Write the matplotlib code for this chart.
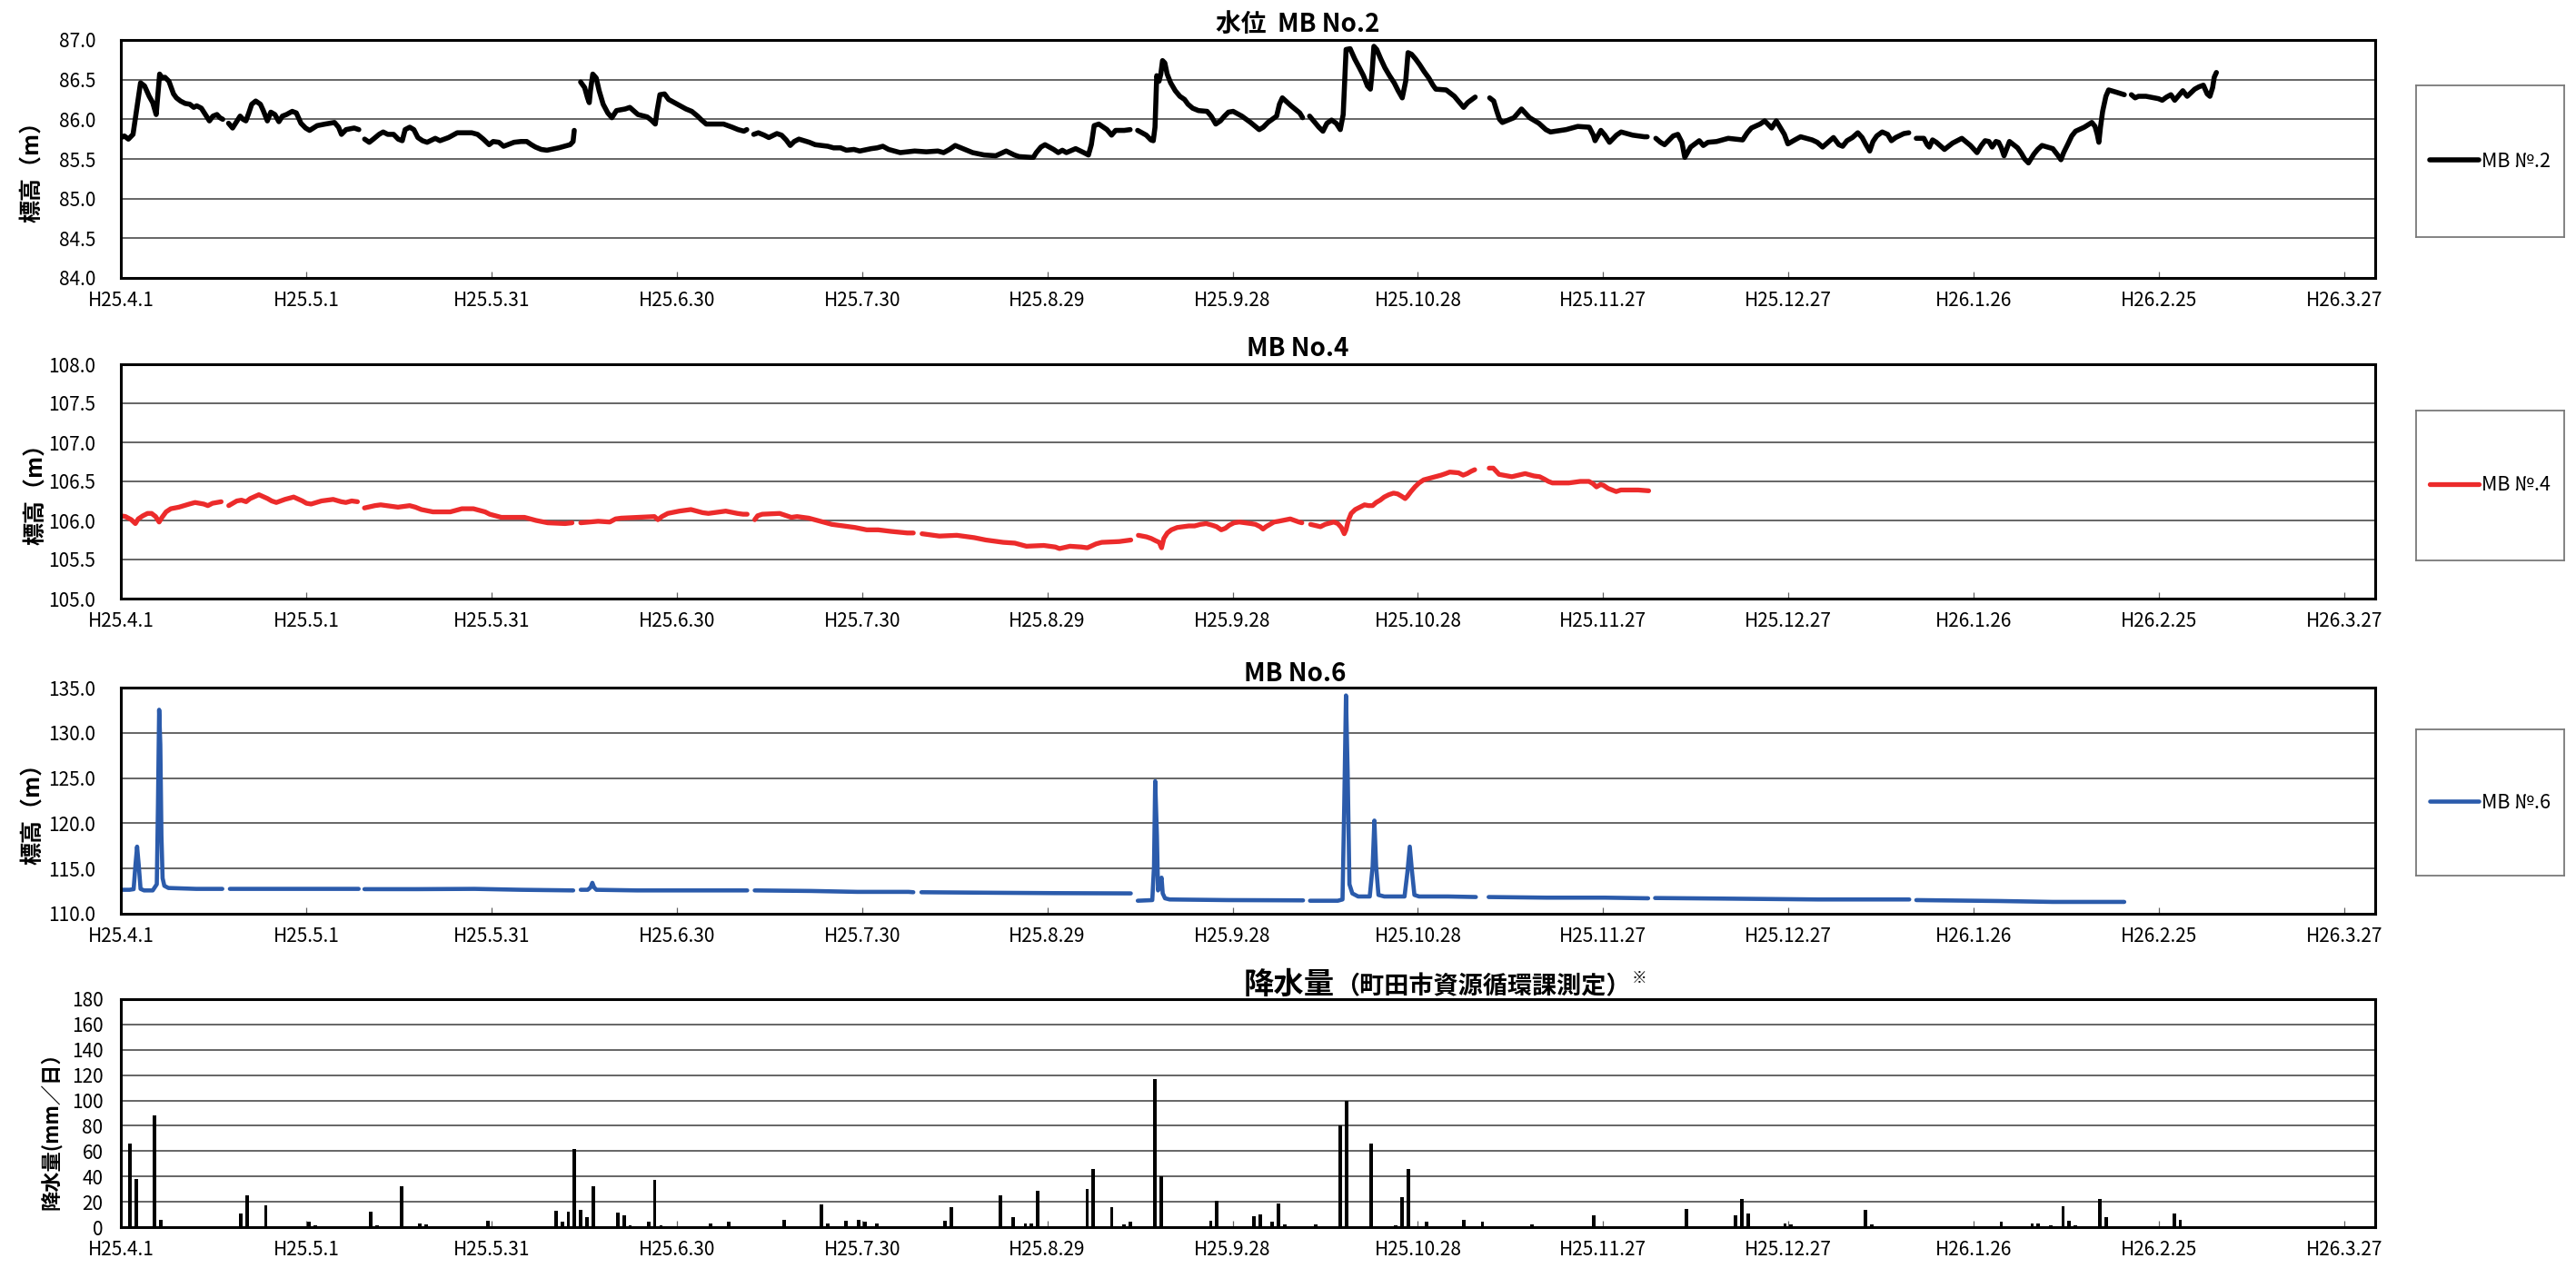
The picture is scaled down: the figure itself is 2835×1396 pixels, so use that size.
import numpy as np
import matplotlib
matplotlib.use("Agg")
import matplotlib.pyplot as plt
from matplotlib.ticker import FormatStrFormatter
from datetime import date, timedelta

plt.rcParams["font.family"] = ["Noto Sans CJK JP", "DejaVu Sans"]

nan = np.nan

# ---- observation period (days counted from H25.4.1 = 2013-04-01) ----
start_date = date(2013, 4, 1)
period_days = 365
tick_step_days = 30

# ---- groundwater level MB No.2 : (day, elevation m); nan = no record ----
mb2_obs = [
    (0.09, 85.77), (0.56, 85.79), (1.22, 85.75), (1.97, 85.81), (2.44, 86.06), (3.19, 86.46),
    (3.84, 86.42), (4.59, 86.29), (5.16, 86.21), (5.72, 86.06), (6.28, 86.57), (6.66, 86.52),
    (7.13, 86.53), (7.78, 86.48), (8.53, 86.32), (9.00, 86.27), (9.66, 86.23), (10.41, 86.20),
    (11.16, 86.19), (11.81, 86.15), (12.28, 86.17), (13.03, 86.14), (13.69, 86.06), (14.34, 85.98),
    (14.91, 86.04), (15.56, 86.06), (16.03, 86.02), (16.50, 86.00),
    (nan, nan),
    (17.44, 85.95), (18.09, 85.89), (18.66, 85.96), (19.31, 86.04), (19.78, 86.00), (20.25, 85.98),
    (20.72, 86.08), (21.19, 86.19), (21.84, 86.23), (22.59, 86.19), (23.06, 86.11), (23.72, 85.98),
    (24.28, 86.09), (24.94, 86.06), (25.59, 85.97), (26.16, 86.04), (26.81, 86.06), (27.75, 86.10),
    (28.41, 86.08), (29.16, 85.95), (29.91, 85.89), (30.56, 85.86), (31.78, 85.92), (33.09, 85.94),
    (33.84, 85.95), (34.59, 85.96), (35.25, 85.90), (35.72, 85.81), (36.47, 85.87), (37.78, 85.89),
    (38.53, 85.87),
    (nan, nan),
    (39.47, 85.75), (40.22, 85.71), (40.88, 85.75), (41.81, 85.81), (42.47, 85.84), (43.22, 85.81),
    (44.16, 85.81), (44.91, 85.75), (45.56, 85.73), (46.03, 85.87), (46.78, 85.90), (47.44, 85.87),
    (48.09, 85.77), (48.84, 85.73), (49.59, 85.71), (50.91, 85.76), (51.66, 85.73), (53.06, 85.77),
    (54.47, 85.83), (56.81, 85.83), (57.75, 85.81), (58.69, 85.75), (59.63, 85.68), (60.28, 85.72),
    (61.22, 85.71), (61.97, 85.66), (63.66, 85.71), (64.78, 85.72), (65.72, 85.72), (66.47, 85.68),
    (67.13, 85.65), (68.06, 85.62), (69.00, 85.61), (70.88, 85.64), (72.75, 85.68), (73.22, 85.72),
    (73.41, 85.86),
    (nan, nan),
    (74.44, 86.47), (75.09, 86.40), (75.56, 86.27), (75.84, 86.21), (76.03, 86.36), (76.41, 86.57),
    (76.97, 86.52), (77.44, 86.36), (78.09, 86.19), (78.84, 86.08), (79.50, 86.02), (80.25, 86.11),
    (81.66, 86.13), (82.41, 86.15), (83.72, 86.06), (85.22, 86.03), (85.88, 85.99), (86.53, 85.94),
    (86.81, 86.10), (87.28, 86.31), (88.03, 86.32), (88.69, 86.25), (89.63, 86.21), (90.56, 86.17),
    (91.50, 86.13), (92.44, 86.10), (93.38, 86.04), (94.03, 85.99), (94.78, 85.94), (96.66, 85.94),
    (97.59, 85.94), (99.00, 85.90), (99.94, 85.87), (100.88, 85.85), (101.34, 85.87),
    (nan, nan),
    (102.47, 85.81), (103.22, 85.83), (104.16, 85.80), (104.91, 85.77), (106.22, 85.82), (106.97, 85.80),
    (107.72, 85.74), (108.38, 85.67), (109.03, 85.72), (109.78, 85.75), (111.47, 85.71), (112.41, 85.68),
    (114.47, 85.66), (115.41, 85.64), (116.53, 85.64), (117.47, 85.61), (118.69, 85.62), (119.63, 85.60),
    (121.50, 85.63), (122.44, 85.64), (123.38, 85.66), (124.31, 85.62), (126.19, 85.58), (128.53, 85.60),
    (130.41, 85.59), (132.28, 85.60), (133.22, 85.58), (134.16, 85.62), (135.09, 85.67), (136.97, 85.61),
    (137.91, 85.58), (139.78, 85.55), (141.66, 85.54), (143.34, 85.60), (144.66, 85.55), (145.41, 85.53),
    (147.28, 85.52), (147.75, 85.52), (148.22, 85.58), (148.97, 85.65), (149.63, 85.68), (151.03, 85.62),
    (151.78, 85.58), (152.44, 85.61), (153.09, 85.58), (154.59, 85.63), (155.91, 85.58), (156.66, 85.55),
    (157.13, 85.68), (157.59, 85.92), (158.34, 85.94), (159.66, 85.87), (160.41, 85.80), (161.06, 85.86),
    (162.47, 85.86), (163.41, 85.87),
    (nan, nan),
    (164.63, 85.86), (166.03, 85.80), (166.78, 85.74), (167.16, 85.73), (167.44, 85.90), (167.72, 86.55),
    (168.09, 86.48), (168.38, 86.57), (168.66, 86.74), (169.03, 86.71), (169.41, 86.57), (169.97, 86.46),
    (170.72, 86.36), (171.47, 86.29), (172.22, 86.25), (172.78, 86.19), (173.53, 86.14), (174.47, 86.11),
    (175.88, 86.10), (176.53, 86.04), (177.28, 85.94), (178.03, 85.98), (178.69, 86.04), (179.34, 86.09),
    (180.09, 86.10), (181.50, 86.04), (182.91, 85.96), (184.31, 85.87), (184.97, 85.90), (185.72, 85.96),
    (187.13, 86.04), (187.59, 86.19), (188.06, 86.27), (189.47, 86.17), (190.88, 86.08), (191.34, 86.02),
    (nan, nan),
    (192.47, 86.04), (193.97, 85.90), (194.63, 85.85), (195.28, 85.95), (196.03, 85.99), (196.78, 85.95),
    (197.44, 85.87), (197.91, 86.06), (198.38, 86.88), (199.03, 86.89), (199.78, 86.76), (200.53, 86.65),
    (201.19, 86.55), (201.84, 86.42), (202.31, 86.38), (202.59, 86.59), (202.88, 86.92), (203.34, 86.88),
    (204.00, 86.76), (204.66, 86.65), (205.41, 86.55), (206.16, 86.46), (206.81, 86.36), (207.47, 86.27),
    (208.03, 86.48), (208.41, 86.84), (208.97, 86.82), (209.63, 86.76), (210.28, 86.69), (211.03, 86.60),
    (211.78, 86.52), (212.44, 86.43), (212.91, 86.38), (214.59, 86.37), (215.91, 86.29), (216.66, 86.22),
    (217.41, 86.15), (218.06, 86.21), (219.28, 86.28),
    (nan, nan),
    (221.63, 86.27), (222.28, 86.23), (222.75, 86.11), (223.22, 86.00), (223.69, 85.96), (225.56, 86.02),
    (226.78, 86.13), (228.09, 86.02), (229.59, 85.95), (230.72, 85.87), (231.47, 85.84), (234.00, 85.87),
    (235.88, 85.91), (237.75, 85.90), (238.41, 85.80), (238.69, 85.73), (239.63, 85.86), (240.28, 85.80),
    (241.03, 85.71), (242.16, 85.80), (242.91, 85.84), (244.78, 85.80), (246.66, 85.78), (247.13, 85.78),
    (nan, nan),
    (248.53, 85.76), (249.28, 85.71), (249.94, 85.68), (251.34, 85.79), (252.09, 85.81), (252.75, 85.71),
    (253.22, 85.52), (254.16, 85.65), (255.56, 85.73), (256.22, 85.67), (256.97, 85.71), (258.38, 85.72),
    (260.25, 85.76), (262.59, 85.74), (263.34, 85.83), (264.00, 85.89), (265.41, 85.94), (266.16, 85.98),
    (267.28, 85.89), (268.03, 85.98), (269.34, 85.81), (269.91, 85.69), (271.03, 85.74), (271.97, 85.78),
    (273.84, 85.74), (274.66, 85.71), (275.53, 85.65), (276.41, 85.71), (277.29, 85.77), (278.16, 85.68),
    (278.78, 85.66), (279.48, 85.73), (280.36, 85.77), (281.23, 85.83), (281.93, 85.77), (282.55, 85.68),
    (283.16, 85.60), (283.69, 85.72), (284.30, 85.79), (285.18, 85.84), (286.06, 85.81), (286.67, 85.73),
    (287.37, 85.77), (288.69, 85.82), (289.48, 85.83),
    (nan, nan),
    (290.70, 85.76), (291.93, 85.76), (292.46, 85.68), (292.81, 85.65), (293.33, 85.74), (293.95, 85.71),
    (295.26, 85.62), (296.58, 85.70), (298.07, 85.76), (299.47, 85.67), (300.53, 85.58), (301.23, 85.67),
    (301.84, 85.73), (302.46, 85.72), (302.98, 85.65), (303.60, 85.72), (304.03, 85.71), (304.47, 85.64),
    (304.91, 85.54), (305.79, 85.72), (307.10, 85.64), (307.72, 85.57), (308.24, 85.50), (308.86, 85.45),
    (309.73, 85.56), (310.35, 85.62), (311.05, 85.67), (312.80, 85.63), (313.68, 85.54), (314.12, 85.49),
    (314.56, 85.58), (315.26, 85.69), (315.87, 85.79), (316.49, 85.85), (317.89, 85.90), (319.12, 85.96),
    (319.64, 85.91), (320.00, 85.81), (320.26, 85.71), (320.52, 85.90), (320.87, 86.10), (321.40, 86.29),
    (321.84, 86.37), (323.15, 86.34), (324.38, 86.31),
    (nan, nan),
    (325.52, 86.31), (326.13, 86.27), (326.66, 86.29), (327.89, 86.29), (329.91, 86.26), (330.52, 86.24),
    (331.22, 86.28), (331.92, 86.31), (332.54, 86.24), (333.85, 86.36), (334.56, 86.29), (335.78, 86.38),
    (336.48, 86.41), (337.18, 86.43), (337.80, 86.32), (338.24, 86.29), (338.68, 86.40), (338.94, 86.53),
    (339.29, 86.59),
]

# ---- groundwater level MB No.4 ----
mb4_obs = [
    (0.00, 106.06), (0.75, 106.05), (1.69, 106.01), (2.35, 105.96), (2.82, 106.02), (3.57, 106.06),
    (4.32, 106.09), (4.98, 106.09), (5.63, 106.05), (6.20, 105.98), (6.67, 106.04), (7.32, 106.11),
    (8.08, 106.15), (9.39, 106.17), (11.08, 106.21), (12.02, 106.23), (13.43, 106.21), (14.09, 106.19),
    (14.84, 106.22), (16.24, 106.24),
    (nan, nan),
    (17.47, 106.19), (18.78, 106.25), (19.53, 106.26), (20.28, 106.24), (20.94, 106.28), (22.35, 106.33),
    (23.76, 106.28), (24.41, 106.25), (25.17, 106.23), (26.57, 106.27), (27.98, 106.30), (29.39, 106.25),
    (30.05, 106.22), (30.80, 106.21), (32.49, 106.25), (34.37, 106.27), (35.68, 106.24), (36.43, 106.23),
    (37.37, 106.25), (38.31, 106.24),
    (nan, nan),
    (39.44, 106.16), (41.13, 106.19), (42.07, 106.20), (44.88, 106.17), (46.76, 106.19), (47.70, 106.17),
    (48.64, 106.14), (50.52, 106.11), (53.34, 106.11), (55.21, 106.15), (57.09, 106.15), (58.97, 106.11),
    (59.72, 106.08), (61.60, 106.04), (63.48, 106.04), (65.35, 106.04), (67.23, 106.00), (69.11, 105.97),
    (71.93, 105.96), (73.05, 105.97),
    (nan, nan),
    (74.46, 105.97), (77.28, 105.99), (79.16, 105.98), (80.10, 106.02), (81.04, 106.03), (86.39, 106.05),
    (86.95, 106.01), (87.61, 106.05), (88.55, 106.09), (90.43, 106.12), (92.30, 106.14), (94.18, 106.10),
    (95.12, 106.09), (97.94, 106.12), (99.82, 106.09), (100.75, 106.08), (101.41, 106.08),
    (nan, nan),
    (102.63, 106.01), (103.10, 106.06), (103.85, 106.08), (106.67, 106.09), (108.55, 106.04), (109.49, 106.05),
    (111.37, 106.03), (113.24, 105.99), (115.12, 105.95), (116.06, 105.94), (117.94, 105.92), (118.88, 105.91),
    (120.76, 105.88), (122.63, 105.88), (124.70, 105.86), (127.33, 105.84), (128.31, 105.84),
    (nan, nan),
    (129.72, 105.83), (132.53, 105.80), (135.35, 105.81), (137.23, 105.79), (138.17, 105.78), (140.05, 105.75),
    (140.99, 105.74), (142.86, 105.72), (144.74, 105.71), (145.68, 105.69), (146.62, 105.67), (149.44, 105.68),
    (151.31, 105.66), (151.97, 105.64), (153.66, 105.67), (155.54, 105.66), (156.48, 105.65), (157.89, 105.70),
    (158.83, 105.72), (161.64, 105.73), (163.52, 105.75),
    (nan, nan),
    (164.74, 105.81), (166.06, 105.79), (166.81, 105.77), (167.56, 105.74), (168.12, 105.72), (168.50, 105.65),
    (168.87, 105.77), (169.44, 105.84), (170.09, 105.88), (171.03, 105.91), (172.91, 105.93), (173.85, 105.93),
    (174.79, 105.95), (175.73, 105.96), (176.67, 105.94), (177.42, 105.92), (178.17, 105.88), (178.83, 105.90),
    (179.48, 105.94), (180.24, 105.97), (181.08, 105.98), (182.96, 105.96), (183.71, 105.95), (184.46, 105.92),
    (184.93, 105.89), (185.40, 105.92), (186.71, 105.98), (187.47, 105.99), (189.34, 106.02), (190.75, 105.98),
    (191.22, 105.97),
    (nan, nan),
    (192.63, 105.95), (194.23, 105.92), (194.98, 105.95), (196.39, 105.98), (197.04, 105.96), (197.61, 105.91),
    (198.08, 105.83), (198.36, 105.88), (198.74, 106.00), (199.20, 106.09), (199.86, 106.14), (200.61, 106.17),
    (201.36, 106.20), (202.02, 106.19), (202.67, 106.19), (203.24, 106.23), (203.90, 106.26), (204.55, 106.30),
    (205.31, 106.33), (206.06, 106.35), (206.72, 106.34), (207.37, 106.31), (207.94, 106.28), (208.31, 106.31),
    (208.88, 106.37), (209.53, 106.43), (210.19, 106.48), (210.94, 106.52), (212.35, 106.55), (213.76, 106.58),
    (214.51, 106.60), (215.17, 106.62), (216.58, 106.61), (217.33, 106.58), (217.98, 106.60), (218.64, 106.63),
    (219.20, 106.65),
    (nan, nan),
    (221.55, 106.67), (222.21, 106.67), (222.68, 106.63), (223.15, 106.59), (225.21, 106.56), (227.37, 106.60),
    (228.78, 106.57), (229.72, 106.56), (230.47, 106.53), (231.13, 106.50), (231.79, 106.48), (234.42, 106.48),
    (236.30, 106.50), (237.71, 106.50), (238.36, 106.47), (238.92, 106.43), (239.58, 106.46), (240.05, 106.45),
    (240.80, 106.41), (242.11, 106.37), (242.87, 106.39), (245.68, 106.39), (247.37, 106.38),
]

# ---- groundwater level MB No.6 ----
mb6_obs = [
    (0.00, 112.65), (1.41, 112.65), (2.07, 112.72), (2.35, 115.27), (2.63, 117.42), (2.91, 115.27),
    (3.19, 112.75), (3.76, 112.58), (5.16, 112.58), (5.82, 113.26), (6.01, 121.98), (6.20, 132.55),
    (6.39, 128.69), (6.57, 118.62), (6.76, 113.93), (7.04, 113.09), (7.70, 112.85), (12.21, 112.75),
    (16.43, 112.75),
    (nan, nan),
    (17.65, 112.75), (27.23, 112.75), (38.50, 112.75),
    (nan, nan),
    (39.44, 112.72), (47.89, 112.72), (57.28, 112.75), (64.79, 112.65), (73.24, 112.58),
    (nan, nan),
    (74.46, 112.65), (75.59, 112.65), (76.06, 112.92), (76.34, 113.42), (76.62, 112.92), (77.00, 112.65),
    (83.57, 112.58), (92.96, 112.58), (101.41, 112.58),
    (nan, nan),
    (102.63, 112.58), (111.74, 112.52), (119.25, 112.42), (127.52, 112.42), (128.31, 112.38),
    (nan, nan),
    (129.62, 112.38), (141.64, 112.32), (151.03, 112.28), (163.52, 112.25),
    (nan, nan),
    (164.65, 111.44), (167.00, 111.51), (167.28, 115.27), (167.47, 124.66), (167.75, 118.62), (167.93, 112.58),
    (168.22, 113.26), (168.50, 113.99), (168.69, 112.25), (169.06, 111.71), (169.81, 111.58), (179.20, 111.51),
    (191.41, 111.48),
    (nan, nan),
    (192.54, 111.44), (197.04, 111.44), (197.80, 111.58), (198.08, 121.98), (198.36, 134.13), (198.64, 125.34),
    (198.92, 113.26), (199.39, 112.25), (200.33, 111.91), (202.21, 111.91), (202.68, 115.27), (202.96, 120.30),
    (203.24, 115.27), (203.62, 112.08), (204.56, 111.91), (207.84, 111.91), (208.31, 114.60), (208.69, 117.42),
    (209.06, 114.60), (209.44, 112.08), (210.19, 111.91), (214.88, 111.91), (219.39, 111.85),
    (nan, nan),
    (221.46, 111.85), (230.85, 111.78), (240.24, 111.78), (247.28, 111.71),
    (nan, nan),
    (248.41, 111.74), (259.02, 111.68), (274.80, 111.58), (289.56, 111.58),
    (nan, nan),
    (290.70, 111.51), (304.03, 111.41), (312.80, 111.31), (324.37, 111.31),
]

# ---- daily precipitation (mm/day) ----
rain_day = [
    1, 2, 5, 6, 19, 20, 23, 24, 30, 31, 40, 41, 45, 48, 49, 59, 60, 70, 71, 72, 73, 74, 75, 76,
    79, 80, 81, 82, 85, 86, 87, 95, 98, 107, 108, 112, 113, 114, 117, 119, 120, 122,
    133, 134, 142, 144, 145, 146, 147, 148, 156, 157, 160, 162, 163, 167, 168, 175, 176, 177,
    183, 184, 186, 187, 188, 193, 197, 198, 202, 203, 206, 207, 208, 211, 217, 220, 224, 228,
    238, 253, 261, 262, 263, 269, 270, 282, 283, 295, 304, 309, 310, 312, 314, 315, 316, 320,
    321, 332, 333,
]
rain_mm = [
    66, 38, 88, 6, 11, 25, 17, 1, 4, 1.5, 12, 1.5, 32, 3, 2, 5, 1, 13, 4, 12, 62, 13.5, 8, 32,
    1, 11.5, 9, 1.5, 4.5, 37, 1.5, 3, 4.5, 5.5, 1, 1, 18, 3, 5, 5.5, 4.5, 3,
    5, 15.5, 25, 8, 1, 3, 3, 28.5, 30, 46, 16, 2, 4, 117, 40, 1, 5, 21,
    8.5, 10, 4, 18.5, 2, 2, 80.5, 100, 66, 1, 1.5, 23.5, 46, 4, 5.5, 4, 1, 2.5,
    9, 14, 9.5, 22.5, 10.5, 3, 2.5, 13.5, 2.5, 1, 4, 3, 3, 1.5, 16.5, 5, 1.5, 22.5,
    8, 10.5, 5.5,
]

titles = ["水位  MB No.2", "MB No.4", "MB No.6"]
legend_labels = ["MB №.2", "MB №.4", "MB №.6"]
level_ylabel = "標高（m）"
rain_ylabel = "降水量(mm／日）"
rain_title_main = "降水量"
rain_title_note = "（町田市資源循環課測定）"
rain_title_mark = "※"

# ---------------------------------------------------------------------------
W_PX, H_PX = 2835, 1396
fig = plt.figure(figsize=(W_PX / 100, H_PX / 100), dpi=100)


def fx(px):
    return px / W_PX


def fy(px):
    return 1 - px / H_PX


def rect(left, top, right, bottom):
    return [fx(left), fy(bottom), fx(right) - fx(left), fy(top) - fy(bottom)]


tick_days = np.arange(0, period_days, tick_step_days)


def era_label(d):
    t = start_date + timedelta(days=int(d))
    return f"H{t.year - 1988}.{t.month}.{t.day}"


tick_labels = [era_label(d) for d in tick_days]


def style_axes(ax, ylo, yhi, step, fmt, ypad):
    ax.set_xlim(0, period_days)
    ax.set_ylim(ylo, yhi)
    ax.set_yticks(np.arange(ylo, yhi + step / 2, step))
    ax.yaxis.set_major_formatter(FormatStrFormatter(fmt))
    ax.set_xticks(tick_days)
    ax.set_xticklabels(tick_labels)
    ax.tick_params(axis="x", direction="in", length=5, width=0.9, color="#606060",
                   pad=10, labelsize=15)
    ax.tick_params(axis="y", length=0, pad=ypad, labelsize=15)
    ax.grid(axis="y", color="#3c3c3c", lw=1.1)
    ax.set_axisbelow(True)
    for s in ax.spines.values():
        s.set_linewidth(2.2)
        s.set_color("black")


level_specs = [
    (mb2_obs, "black", 4.0, (84.0, 87.0, 0.5), (44, 306), (94, 261), 27, 1428, 36),
    (mb4_obs, "#EC2B2B", 3.8, (105.0, 108.0, 0.5), (401, 659), (452, 617), 384, 1428, 40),
    (mb6_obs, "#2B5BAB", 3.3, (110.0, 135.0, 5.0), (757, 1006), (803, 964), 742, 1425, 37),
]

for (obs, color, lw, (ylo, yhi, step), (top, bottom), (ltop, lbottom),
     title_y, title_x, ylab_x), title, lab in zip(level_specs, titles, legend_labels):
    ax = fig.add_axes(rect(133, top, 2614, bottom))
    days, levels = np.array(obs).T
    (line,) = ax.plot(days, levels, color=color, lw=lw, solid_capstyle="round",
                      solid_joinstyle="round")
    style_axes(ax, ylo, yhi, step, "%.1f", 20)
    fig.text(fx(title_x), fy(title_y), title, ha="center", va="center",
             fontsize=20, fontweight="bold")
    fig.text(fx(ylab_x), fy((top + bottom) / 2 + 8), level_ylabel, rotation=90,
             ha="center", va="center", fontsize=18, fontweight="bold")

    # legend box at the right of each panel
    lax = fig.add_axes(rect(2659, ltop, 2822, lbottom))
    lax.set_xticks([])
    lax.set_yticks([])
    for s in lax.spines.values():
        s.set_linewidth(1.3)
        s.set_color("#7a7a7a")
    lax.legend([line], [lab], loc="center", frameon=False, fontsize=15.5,
               handlelength=2.5, handletextpad=0.15, borderpad=0)

# ---- precipitation panel ----
bax = fig.add_axes(rect(133, 1100, 2614, 1351))
bax.bar(np.array(rain_day) + 0.45, rain_mm, width=0.55, color="black", lw=0)
style_axes(bax, 0, 180, 20, "%d", 14)
fig.text(fx(56), fy(1240), rain_ylabel, rotation=90, ha="center", va="center",
         fontsize=16, fontweight="bold")

# title built from three pieces of different size
renderer = fig.canvas.get_renderer()
base_y = fy(1094)
t1 = fig.text(fx(1369), base_y, rain_title_main, ha="left", va="baseline",
              fontsize=24, fontweight="bold")
x1 = t1.get_window_extent(renderer).x1
t2 = fig.text(x1 / W_PX, base_y, rain_title_note, ha="left", va="baseline",
              fontsize=19.5, fontweight="bold")
x2 = t2.get_window_extent(renderer).x1
fig.text((x2 + 1) / W_PX, base_y + 12 / H_PX, rain_title_mark, ha="left",
         va="baseline", fontsize=12, fontweight="bold")

fig.savefig("out.png", dpi=100)
